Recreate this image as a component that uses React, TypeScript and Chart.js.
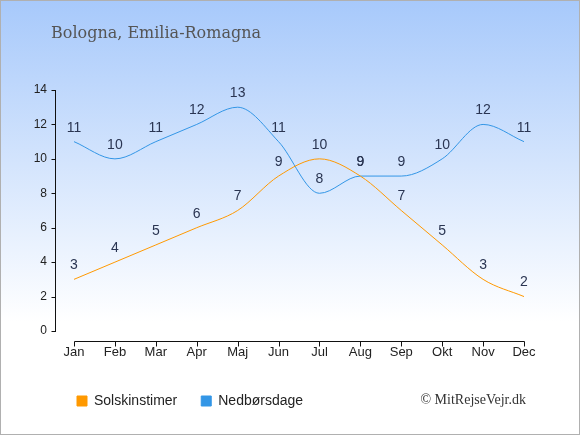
import React, { useEffect, useRef } from 'react';
import { Chart, registerables } from 'chart.js';

Chart.register(...registerables);

const months = ['Jan', 'Feb', 'Mar', 'Apr', 'Maj', 'Jun', 'Jul', 'Aug', 'Sep', 'Okt', 'Nov', 'Dec'];
const sunHours = [3, 4, 5, 6, 7, 9, 10, 9, 7, 5, 3, 2];
const rainDays = [11, 10, 11, 12, 13, 11, 8, 9, 9, 10, 12, 11];
const yMin = 0;
const yMax = 14;
const yStep = 2;

const title = 'Bologna, Emilia-Romagna';
const credit = '\u00a9 MitRejseVejr.dk';

const ORANGE = '#ff9900';
const BLUE = '#3396e6';
const SANS = '"Liberation Sans", Arial, sans-serif';

// background, frame, title and credit line
const framePlugin = {
  id: 'frame',
  afterLayout(chart: any) {
    // legend starts under the y axis, not at the canvas edge
    if (chart.legend) {
      chart.legend.left = 53;
    }
  },
  beforeDraw(chart: Chart) {
    const { ctx, width, height } = chart;
    ctx.save();
    const g = ctx.createLinearGradient(0, 0, 0, height);
    g.addColorStop(0, '#a7c9fb');
    g.addColorStop(0.74, '#ffffff');
    g.addColorStop(1, '#ffffff');
    ctx.fillStyle = g;
    ctx.fillRect(0, 0, width, height);
    ctx.strokeStyle = '#b0b0b0';
    ctx.lineWidth = 1;
    ctx.strokeRect(0.5, 0.5, width - 1, height - 1);
    ctx.restore();
  },
  afterDraw(chart: Chart) {
    const { ctx } = chart;
    ctx.save();
    ctx.textBaseline = 'alphabetic';
    ctx.textAlign = 'left';
    ctx.fillStyle = '#555555';
    ctx.font = '16px "DejaVu Serif", serif';
    ctx.fillText(title, 51, 38);
    ctx.fillStyle = '#333333';
    ctx.font = '14px "Liberation Serif", serif';
    ctx.textAlign = 'right';
    ctx.fillText(credit, 526, 404);
    ctx.restore();
  },
};

// detached axis lines like the original
const axesPlugin = {
  id: 'axesLines',
  afterDraw(chart: Chart) {
    const { ctx, chartArea } = chart;
    const x = chart.scales.x;
    const y = chart.scales.y;
    const ax = Math.round(chartArea.left - 19) + 0.5;
    const y0 = y.getPixelForValue(yMin);
    const yTop = y.getPixelForValue(yMax);
    const bx = Math.round(y0 + 10) + 0.5;
    ctx.save();
    ctx.strokeStyle = '#111111';
    ctx.lineWidth = 1;
    ctx.beginPath();
    ctx.moveTo(ax, Math.round(yTop));
    ctx.lineTo(ax, Math.round(y0) + 1);
    for (let v = yMin; v <= yMax; v += yStep) {
      const py = Math.round(y.getPixelForValue(v)) + 0.5;
      ctx.moveTo(ax - 4, py);
      ctx.lineTo(ax, py);
    }
    const x0 = Math.round(x.getPixelForValue(0)) + 0.5;
    const x1 = Math.round(x.getPixelForValue(months.length - 1)) + 0.5;
    ctx.moveTo(x0, bx);
    ctx.lineTo(x1, bx);
    months.forEach((_, i) => {
      const px = Math.round(x.getPixelForValue(i)) + 0.5;
      ctx.moveTo(px, bx);
      ctx.lineTo(px, bx + 5);
    });
    ctx.stroke();
    ctx.restore();
  },
};

// value labels above each point
const valueLabels = {
  id: 'valueLabels',
  afterDatasetsDraw(chart: Chart) {
    const { ctx } = chart;
    ctx.save();
    ctx.font = '14px ' + SANS;
    ctx.fillStyle = '#2a3552';
    ctx.textAlign = 'center';
    ctx.textBaseline = 'middle';
    chart.data.datasets.forEach((ds, i) => {
      const meta = chart.getDatasetMeta(i);
      meta.data.forEach((pt: any, j: number) => {
        ctx.fillText(String(ds.data[j]), pt.x, pt.y - 14);
      });
    });
    ctx.restore();
  },
};

export default function App() {
  const canvasRef = useRef<HTMLCanvasElement | null>(null);
  const chartRef = useRef<Chart | null>(null);

  useEffect(() => {
    if (!canvasRef.current) return;
    if (chartRef.current) chartRef.current.destroy();

    chartRef.current = new Chart(canvasRef.current, {
      type: 'line',
      data: {
        labels: months,
        datasets: [
          {
            label: 'Solskinstimer',
            data: sunHours,
            borderColor: ORANGE,
            backgroundColor: ORANGE,
            borderWidth: 1,
            pointRadius: 0,
            cubicInterpolationMode: 'monotone',
          },
          {
            label: 'Nedbørsdage',
            data: rainDays,
            borderColor: BLUE,
            backgroundColor: BLUE,
            borderWidth: 1,
            pointRadius: 0,
            cubicInterpolationMode: 'monotone',
          },
        ],
      },
      options: {
        responsive: false,
        animation: false,
        layout: { padding: { left: 28, right: 56, top: 90, bottom: 17 } },
        plugins: {
          title: { display: false },
          tooltip: { enabled: false },
          legend: {
            position: 'bottom',
            align: 'start',
            labels: {
              boxWidth: 10,
              boxHeight: 10,
              padding: 24,
              color: '#222222',
              font: { family: SANS, size: 14 },
            },
          },
        },
        scales: {
          x: {
            offset: false,
            grid: { display: false, drawTicks: false },
            border: { display: false },
            ticks: {
              padding: 14,
              color: '#222222',
              maxRotation: 0,
              autoSkip: false,
              font: { family: SANS, size: 13 },
            },
            afterFit: (s: any) => {
              s.height = 39;
            },
          },
          y: {
            min: yMin,
            max: yMax,
            grid: { display: false, drawTicks: false },
            border: { display: false },
            ticks: {
              stepSize: yStep,
              padding: 27,
              color: '#222222',
              font: { family: SANS, size: 12 },
            },
            afterFit: (s: any) => {
              s.width = 46;
            },
          },
        },
      },
      plugins: [framePlugin, axesPlugin, valueLabels],
    });

    return () => {
      if (chartRef.current) {
        chartRef.current.destroy();
        chartRef.current = null;
      }
    };
  }, []);

  return (
    <div style={{ position: 'absolute', left: 0, top: 0, width: 580, height: 435 }}>
      <canvas ref={canvasRef} width={580} height={435} />
    </div>
  );
}
